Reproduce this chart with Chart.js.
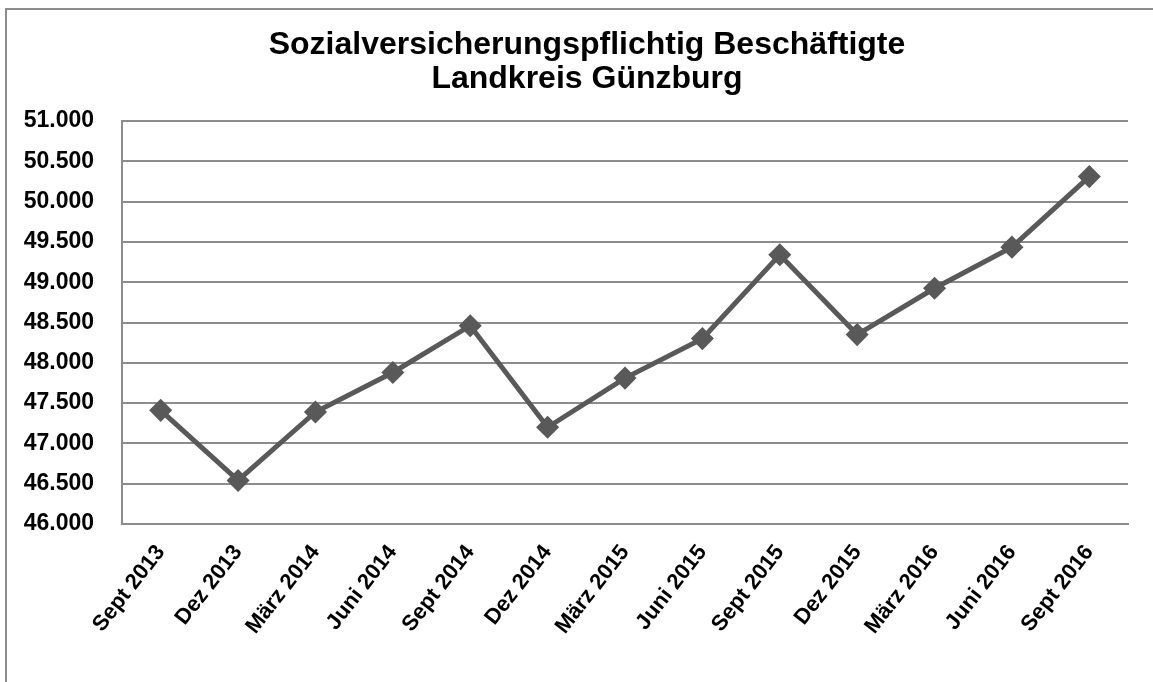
<!DOCTYPE html>
<html>
<head>
<meta charset="utf-8">
<script src="https://cdn.jsdelivr.net/npm/chart.js@4/dist/chart.umd.min.js"></script>
<style>
  body { margin: 0; background: #fff; }
  #wrap { position: relative; width: 1153px; height: 682px; overflow: hidden; }
  #frame { position: absolute; left: 5px; top: 8px; width: 1200px; height: 720px; border: 2px solid #8c8c8c; box-sizing: border-box; }
  canvas { position: absolute; left: 0; top: 0; }
</style>
</head>
<body>
<div id="wrap">
  <div id="frame"></div>
  <canvas id="chart" width="1153" height="682"></canvas>
</div>
<script>
// Quartale
const labels = ['Sept 2013', 'Dez 2013', 'März 2014', 'Juni 2014', 'Sept 2014', 'Dez 2014',
  'März 2015', 'Juni 2015', 'Sept 2015', 'Dez 2015', 'März 2016', 'Juni 2016', 'Sept 2016'];
// Beschäftigte
const beschaeftigte = [47410, 46540, 47390, 47880, 48460, 47200,
  47810, 48300, 49340, 48350, 48925, 49435, 50310];
const yMin = 46000;
const yMax = 51000;
const yStep = 500;
const titel = ['Sozialversicherungspflichtig Beschäftigte', 'Landkreis Günzburg'];

const font = 'Liberation Sans, Arial, sans-serif';
const gridColor = '#8c8c8c';

// 51000 -> "51.000"
function fmt(v) {
  return String(v).replace(/\B(?=(\d{3})+(?!\d))/g, '.');
}

// Titel selbst zeichnen, da er im Original nicht mittig zur Leinwand sitzt
const titelPlugin = {
  id: 'titel',
  afterDraw(chart) {
    const ctx = chart.ctx;
    ctx.save();
    ctx.font = 'bold 32px ' + font;
    ctx.fillStyle = '#000';
    ctx.textAlign = 'center';
    ctx.textBaseline = 'alphabetic';
    titel.forEach((t, i) => ctx.fillText(t, 587, 54 + i * 34));
    ctx.restore();
  }
};

new Chart(document.getElementById('chart'), {
  type: 'line',
  data: {
    labels: labels,
    datasets: [{
      data: beschaeftigte,
      borderColor: '#595959',
      backgroundColor: '#595959',
      borderWidth: 5,
      pointStyle: 'rectRot',
      pointRadius: 8,
      pointHoverRadius: 8,
      tension: 0
    }]
  },
  options: {
    responsive: false,
    animation: false,
    layout: { padding: { left: 5, right: 25, top: 121, bottom: 0 } },
    plugins: {
      legend: { display: false },
      tooltip: { enabled: false },
      title: { display: false }
    },
    scales: {
      x: {
        offset: true,
        grid: { display: false, drawTicks: false },
        border: { color: gridColor, width: 2 },
        ticks: {
          color: '#000',
          font: { family: font, size: 22, weight: 'bold' },
          maxRotation: 52,
          minRotation: 52,
          autoSkip: false,
          padding: 16
        },
        afterFit: s => { s.height = 158; }
      },
      y: {
        min: yMin,
        max: yMax,
        grid: { color: gridColor, lineWidth: 2, drawTicks: false },
        border: { color: gridColor, width: 2 },
        ticks: {
          stepSize: yStep,
          color: '#000',
          font: { family: font, size: 23, weight: 'bold' },
          padding: 28,
          callback: v => fmt(v)
        },
        afterFit: s => { s.width = 117; }
      }
    }
  },
  plugins: [titelPlugin]
});
</script>
</body>
</html>
